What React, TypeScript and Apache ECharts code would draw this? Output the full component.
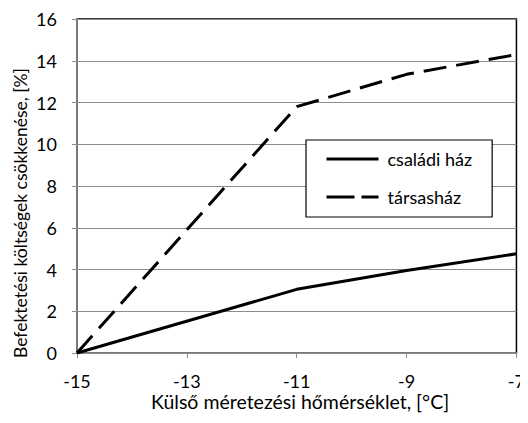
import React, { useEffect, useRef } from "react";
import * as echarts from "echarts";

const xValues = [-15, -11, -9, -7];
const csaladiHaz = [0, 3.05, 3.95, 4.75];
const tarsashaz = [0, 11.8, 13.35, 14.3];
const seriesNames = ["családi ház", "társasház"];
const yTitle = "Befektetési költségek csökkenése, [%]";
const xTitle = "Külső méretezési hőmérséklet, [°C]";

const FONT = "Lato";
const DASH = [23, 10];

export default function App() {
  const ref = useRef<HTMLDivElement>(null);
  useEffect(() => {
    if (!ref.current) return;
    const chart = echarts.init(ref.current, null, { renderer: "svg" });
    chart.setOption({
      animation: false,
      backgroundColor: "#fff",
      textStyle: { fontFamily: FONT },
      grid: {
        left: 77,
        right: 9,
        top: 19,
        bottom: 70,
        show: true,
        borderColor: "#000",
        borderWidth: 1.5,
      },
      graphic: [
        {
          type: "text",
          x: 20,
          y: 358,
          rotation: Math.PI / 2,
          style: {
            text: yTitle,
            fontFamily: FONT,
            fontSize: 17.5,
            fill: "#000",
            align: "left",
            verticalAlign: "middle",
          },
        },
        {
          type: "text",
          x: 151,
          y: 401,
          style: {
            text: xTitle,
            fontFamily: FONT,
            fontSize: 19.5,
            lineHeight: 15,
            fill: "#000",
            align: "left",
            verticalAlign: "middle",
          },
        },
      ],
      legend: {
        left: 306,
        top: 140,
        orient: "vertical",
        backgroundColor: "#fff",
        borderColor: "#000",
        borderWidth: 1.2,
        borderRadius: 0,
        padding: [10, 20, 11, 19],
        itemWidth: 52,
        itemHeight: 18,
        itemGap: 20,
        itemStyle: { opacity: 0 },
        textStyle: { fontFamily: FONT, fontSize: 18, color: "#000", padding: [0, 0, 0, 4] },
        data: [
          { name: seriesNames[0], lineStyle: { color: "#000", width: 3, type: "solid" } },
          { name: seriesNames[1], lineStyle: { color: "#000", width: 3, type: [28, 7] } },
        ],
      },
      xAxis: {
        type: "value",
        min: -15,
        max: -7,
        interval: 2,
        axisLine: { show: true, onZero: false, lineStyle: { color: "#8c8c8c", width: 1.5 } },
        axisTick: { show: true, length: 5, lineStyle: { color: "#8c8c8c" } },
        axisLabel: { fontFamily: FONT, fontSize: 18, lineHeight: 15, color: "#000", margin: 20 },
        splitLine: { show: false },
      },
      yAxis: {
        type: "value",
        min: 0,
        max: 16,
        interval: 2,
        axisLine: { show: true, lineStyle: { color: "#8c8c8c", width: 1.5 } },
        axisTick: { show: true, length: 5, lineStyle: { color: "#8c8c8c" } },
        axisLabel: { fontFamily: FONT, fontSize: 18, color: "#000", margin: 20 },
        splitLine: { show: true, lineStyle: { color: "#8c8c8c", width: 1.2 } },
      },
      series: [
        {
          name: seriesNames[0],
          type: "line",
          data: xValues.map((x, i) => [x, csaladiHaz[i]]),
          showSymbol: false,
          symbol: "none",
          lineStyle: { color: "#000", width: 3 },
          itemStyle: { color: "#000" },
        },
        {
          name: seriesNames[1],
          type: "line",
          data: xValues.map((x, i) => [x, tarsashaz[i]]),
          showSymbol: false,
          symbol: "none",
          lineStyle: { color: "#000", width: 3, type: DASH },
          itemStyle: { color: "#000" },
        },
      ],
    });
    return () => chart.dispose();
  }, []);
  return <div ref={ref} style={{ width: 528, height: 423, margin: -8 }} />;
}
